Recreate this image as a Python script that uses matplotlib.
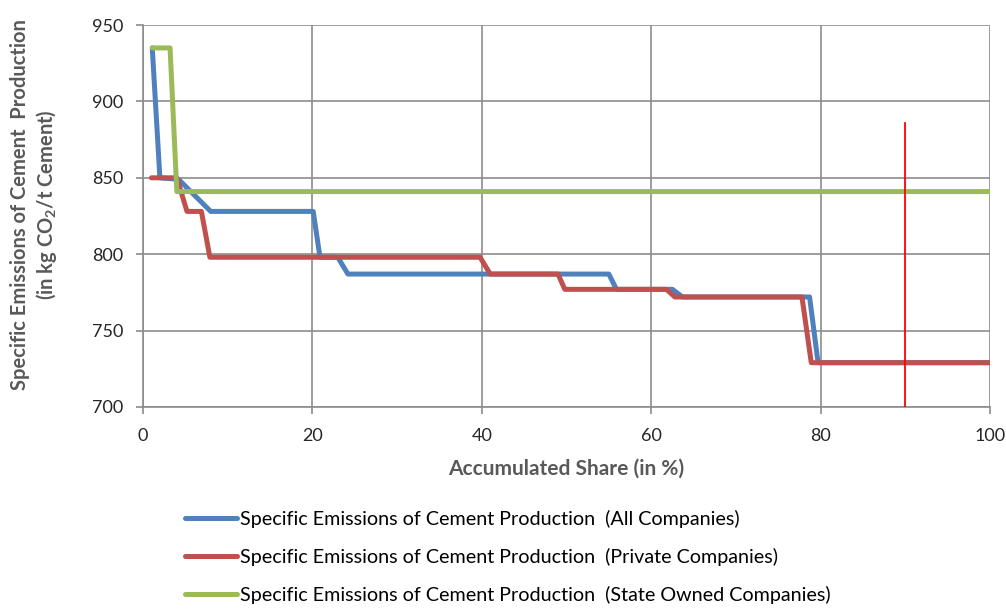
import matplotlib
matplotlib.use("Agg")
import matplotlib.pyplot as plt

plt.rcParams['font.family'] = ['Lato', 'DejaVu Sans']
plt.rcParams['mathtext.fontset'] = 'custom'
plt.rcParams['mathtext.rm'] = 'Lato'
plt.rcParams['mathtext.bf'] = 'Lato:bold'

# accumulated share (%) vs specific emissions (kg CO2 / t cement)
all_x = [1.1, 2.0, 4.2, 8.0, 20.1, 20.9, 23.0, 24.2, 55.0, 55.9, 62.5, 63.7, 78.7, 79.7, 100]
all_y = [935, 850, 849, 828, 828, 798, 798, 787, 787, 777, 777, 772, 772, 729, 729]

private_x = [1.0, 4.0, 5.2, 6.9, 7.9, 39.8, 41.0, 49.0, 49.8, 61.8, 62.8, 77.8, 78.9, 100]
private_y = [850, 850, 828, 828, 798, 798, 787, 787, 777, 777, 772, 772, 729, 729]

state_x = [1.1, 3.2, 4.0, 100]
state_y = [935, 935, 841, 841]

marker_x = 90
marker_y = [700, 886]

labels = [
    "Specific Emissions of Cement Production  (All Companies)",
    "Specific Emissions of Cement Production  (Private Companies)",
    "Specific Emissions of Cement Production  (State Owned Companies)",
]

fig = plt.figure(figsize=(10.06, 6.10), dpi=100)
ax = fig.add_axes([0.1421, 0.3328, 0.8420, 0.6262])

style = dict(lw=3.6, solid_capstyle='round', solid_joinstyle='round')
l1, = ax.plot(all_x, all_y, color='#4F81BD', zorder=3, **style)
l2, = ax.plot(private_x, private_y, color='#C0504D', zorder=4, **style)
l3, = ax.plot(state_x, state_y, color='#9BBB59', zorder=5, **style)
ax.plot([marker_x, marker_x], marker_y, color='#FF0000', lw=1.3, zorder=6)

ax.set_xlim(0, 100)
ax.set_ylim(700, 950)
ax.set_xticks(range(0, 101, 20))
ax.set_yticks(range(700, 951, 50))

ax.grid(True, color='#8C8C8C', lw=1.2)
ax.set_axisbelow(True)
for side in ('top', 'right'):
    ax.spines[side].set_visible(False)
for side in ('left', 'bottom'):
    ax.spines[side].set_color('#8C8C8C')
    ax.spines[side].set_linewidth(1.2)

ax.tick_params(axis='both', colors='#8C8C8C', length=5, width=1.2,
               labelsize=13, labelcolor='#262626')
ax.tick_params(axis='x', pad=10)
ax.tick_params(axis='y', pad=9)

ax.set_xlabel("Accumulated Share (in %)", fontsize=15, fontweight='bold',
              color='#595959', labelpad=11)
fig.text(0.0199, 0.6645, "Specific Emissions of Cement  Production",
         rotation=90, ha='center', va='center', fontsize=14.5,
         fontweight='bold', color='#595959')
fig.text(0.0467, 0.6645, r"(in kg CO$_\mathbf{2}$/t Cement)",
         rotation=90, ha='center', va='center', fontsize=14.5,
         fontweight='bold', color='#595959')

fig.legend([l1, l2, l3], labels, loc='upper left',
           bbox_to_anchor=(0.184, 0.164), bbox_transform=fig.transFigure,
           frameon=False, fontsize=14.2, handlelength=2.65, handletextpad=0.15,
           labelspacing=1.02, borderpad=0, borderaxespad=0, labelcolor='#000000')

fig.savefig("out.png", dpi=100)
